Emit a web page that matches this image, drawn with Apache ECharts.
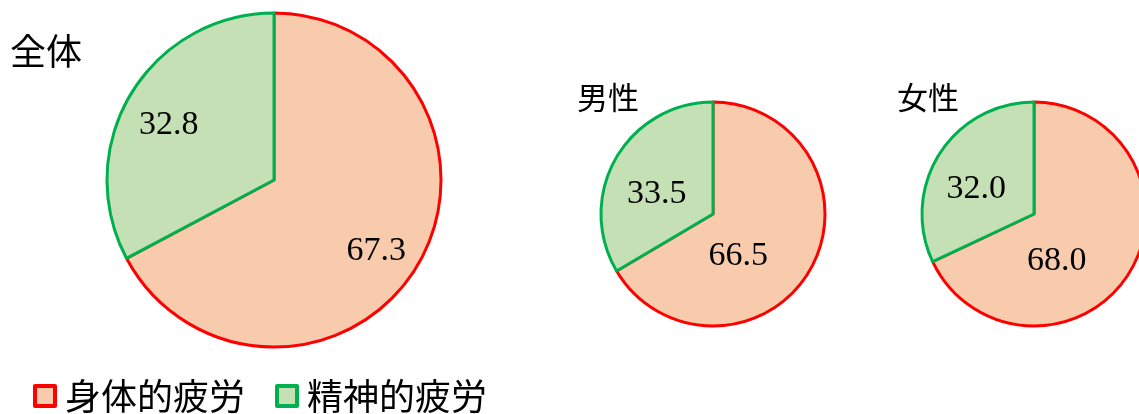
<!DOCTYPE html>
<html><head><meta charset="utf-8">
<script src="https://cdn.jsdelivr.net/npm/echarts@6/dist/echarts.min.js"></script>
<style>html,body{margin:0;padding:0;background:#fff}#c{width:1139px;height:414px}</style>
</head><body><div id="c"></div>
<script>
const categories = ['身体的疲労', '精神的疲労'];
const groups = ['全体', '男性', '女性'];
const physical = [67.3, 66.5, 68.0];
const mental = [32.8, 33.5, 32.0];

// styling / layout (not data)
const fills = ['#F8CBAD', '#C5E0B4'];
const strokes = ['#FF0000', '#00B050'];
const centers = [[274, 180], [713, 214], [1034, 214]];
const radii = [167, 112, 112];
const titlePos = [[10, 33], [577, 82], [897, 82]];
const titleSize = [36, 31, 31];
const labelShift = [[[28, 27], [-31, -10]], [[-26, 13], [-5, 9]], [[-27, 15], [-8, 7]]];

const chart = echarts.init(document.getElementById('c'), null, {renderer: 'canvas'});
const series = groups.map((g, i) => ({
  type: 'pie',
  name: g,
  center: centers[i],
  radius: [0, radii[i]],
  startAngle: 90,
  clockwise: true,
  silent: true,
  animation: false,
  label: {
    show: true, position: 'inside',
    formatter: p => p.value.toFixed(1),
    fontFamily: 'Liberation Serif', fontSize: 34, color: '#000'
  },
  labelLayout: p => ({dx: labelShift[i][p.dataIndex][0], dy: labelShift[i][p.dataIndex][1]}),
  labelLine: {show: false},
  emphasis: {disabled: true},
  data: categories.map((c, k) => ({
    name: c,
    value: k === 0 ? physical[i] : mental[i],
    itemStyle: {color: fills[k], borderColor: strokes[k], borderWidth: 3}
  }))
}));

chart.setOption({
  backgroundColor: '#fff',
  title: groups.map((g, i) => ({
    text: g, left: titlePos[i][0], top: titlePos[i][1], padding: 0,
    textStyle: {fontFamily: 'Noto Sans CJK JP', fontWeight: 'normal', fontSize: titleSize[i], color: '#000'}
  })),
  legend: {
    left: 33, top: 378, padding: 0, itemGap: 30, itemWidth: 20, itemHeight: 20, icon: 'rect',
    data: categories,
    textStyle: {fontFamily: 'Noto Sans CJK JP', fontSize: 36, color: '#000', padding: [0, 0, 0, 5]},
    itemStyle: {borderWidth: 4}
  },
  series: series
});
</script></body></html>
